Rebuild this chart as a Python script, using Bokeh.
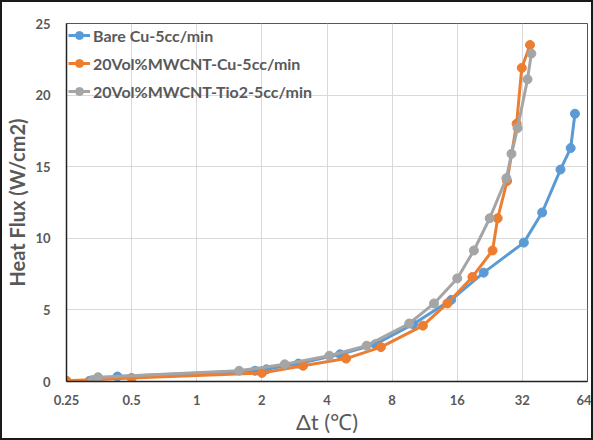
from bokeh.plotting import figure
from bokeh.models import FixedTicker, Range1d, Legend, LegendItem
from bokeh.embed import file_html
from bokeh.resources import INLINE

x_ticks = [0.25, 0.5, 1, 2, 4, 8, 16, 32, 64]
x_tick_labels = ["0.25", "0.5", "1", "2", "4", "8", "16", "32", "64"]
y_ticks = [0, 5, 10, 15, 20, 25]

bare_x = [0.32, 0.43, 1.86, 2.1, 2.95, 4.6, 6.7, 10.0, 15.0, 21.2, 32.5, 39.5, 48.0, 53.5, 56.0]
bare_y = [0.05, 0.35, 0.75, 0.85, 1.25, 1.9, 2.6, 4.0, 5.7, 7.6, 9.7, 11.8, 14.8, 16.3, 18.7]

cu_x = [0.25, 0.5, 2.0, 3.1, 4.9, 7.1, 11.1, 14.4, 18.8, 23.3, 24.6, 27.2, 30.1, 31.8, 34.7]
cu_y = [0.05, 0.25, 0.6, 1.1, 1.6, 2.4, 3.9, 5.45, 7.3, 9.15, 11.4, 14.0, 18.0, 21.9, 23.5]

ti_x = [0.33, 0.35, 1.57, 2.55, 4.1, 6.1, 9.6, 12.5, 16.0, 19.1, 22.6, 27.0, 28.5, 30.4, 33.8, 35.2]
ti_y = [0.1, 0.3, 0.75, 1.2, 1.8, 2.5, 4.05, 5.45, 7.2, 9.15, 11.4, 14.2, 15.9, 17.7, 21.1, 22.9]

names = ["Bare Cu-5cc/min", "20Vol%MWCNT-Cu-5cc/min", "20Vol%MWCNT-Tio2-5cc/min"]
colors = ["#5B9BD5", "#ED7D31", "#A5A5A5"]

FONT = "Lato"
TXT = "#595959"

p = figure(width=593, height=440, x_axis_type="log",
           x_range=Range1d(0.25, 64), y_range=Range1d(0, 25),
           output_backend="svg", toolbar_location=None,
           min_border_left=60, min_border_right=8, min_border_top=21, min_border_bottom=61)
p.styles = {"border": "2px solid #1a1a1a", "box-sizing": "border-box"}

p.xaxis.ticker = FixedTicker(ticks=x_ticks)
p.xaxis.major_label_overrides = {t: l for t, l in zip(x_ticks, x_tick_labels)}
p.yaxis.ticker = FixedTicker(ticks=y_ticks)

for ax in (p.xaxis[0], p.yaxis[0]):
    ax.major_tick_line_color = None
    ax.minor_tick_line_color = None
    ax.axis_line_color = "#222222"
    ax.axis_line_width = 1.5
    ax.major_label_text_font = FONT
    ax.major_label_text_font_style = "bold"
    ax.major_label_text_font_size = "13px"
    ax.major_label_text_color = TXT

p.xaxis.axis_label = "Δt (℃)"
p.xaxis.axis_label_text_font = FONT
p.xaxis.axis_label_text_font_style = "normal"
p.xaxis.axis_label_text_font_size = "22px"
p.xaxis.axis_label_text_color = TXT
p.xaxis.axis_label_standoff = 0
p.xaxis.major_label_standoff = 7

p.yaxis.axis_label = "Heat Flux (W/cm2)"
p.yaxis.axis_label_text_font = FONT
p.yaxis.axis_label_text_font_style = "bold"
p.yaxis.axis_label_text_font_size = "20px"
p.yaxis.axis_label_text_color = TXT
p.yaxis.axis_label_standoff = 3
p.yaxis.major_label_standoff = 10

p.xgrid.grid_line_color = "#D9D9D9"
p.ygrid.grid_line_color = "#D9D9D9"
p.outline_line_color = "#555555"
p.outline_line_width = 1

items = []
for xs, ys, c, n in [(bare_x, bare_y, colors[0], names[0]),
                     (cu_x, cu_y, colors[1], names[1]),
                     (ti_x, ti_y, colors[2], names[2])]:
    r1 = p.line(xs, ys, line_color=c, line_width=3)
    r2 = p.scatter(xs, ys, size=9, fill_color=c, line_color=c)
    items.append(LegendItem(label=n, renderers=[r1, r2]))

legend = Legend(items=items, location="top_left")
legend.background_fill_alpha = 0
legend.border_line_color = None
legend.label_text_font = FONT
legend.label_text_font_style = "bold"
legend.label_text_font_size = "16px"
legend.label_text_color = TXT
legend.glyph_width = 22
legend.spacing = 8
legend.margin = 2
legend.padding = 4
legend.label_standoff = 3
p.add_layout(legend)

open("out.html", "w").write(file_html(p, INLINE))
